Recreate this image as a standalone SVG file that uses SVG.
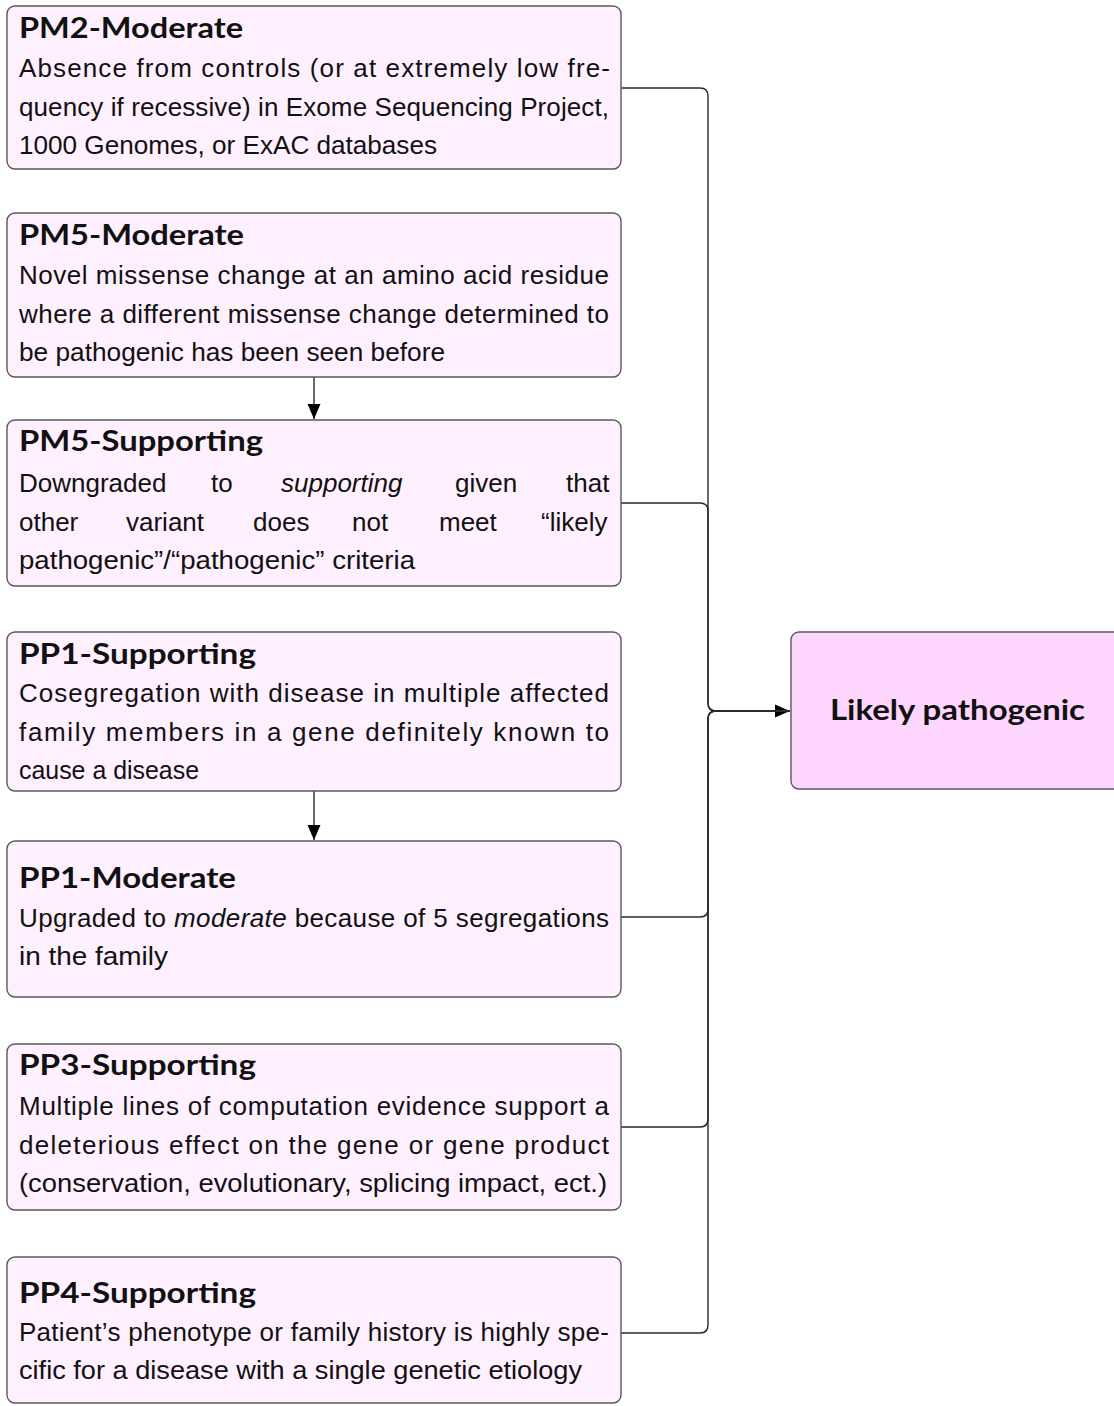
<svg xmlns="http://www.w3.org/2000/svg" width="1114" height="1406" viewBox="0 0 1114 1406">
<style>
.box{fill:#fef0fe;stroke:#5a5a5a;stroke-width:1.4}
.res{fill:#fdd5fd;stroke:#5a5a5a;stroke-width:1.4}
.t{font-family:Lato,"Liberation Sans",Arial,sans-serif;font-size:29px;font-weight:bold;fill:#111}
.b{font-family:"Liberation Sans",Arial,sans-serif;font-size:26px;fill:#111}
.i{font-style:italic}
.c{fill:none;stroke:#2a2a2a;stroke-width:1.4}
</style>
<defs>
<marker id="ah" markerUnits="userSpaceOnUse" markerWidth="16" markerHeight="14" refX="15" refY="7" orient="auto">
<path d="M0,0.5 L15,7 L0,13.5 Z" fill="#000"/>
</marker>
</defs>
<g id="connectors">
<path class="c" d="M621,88 H700 Q708,88 708,96 V703 Q708,711 716,711 H790" marker-end="url(#ah)"/>
<path class="c" d="M621,503 H700 Q708,503 708,511 V703 Q708,711 716,711 H790"/>
<path class="c" d="M621,917 H700 Q708,917 708,909 V719 Q708,711 716,711 H790"/>
<path class="c" d="M621,1127 H700 Q708,1127 708,1119 V719 Q708,711 716,711 H790"/>
<path class="c" d="M621,1333 H700 Q708,1333 708,1325 V719 Q708,711 716,711 H790"/>
<path class="c" d="M314,377 V419" marker-end="url(#ah)"/>
<path class="c" d="M314,791 V840" marker-end="url(#ah)"/>
</g>
<g id="pm2">
<rect class="box" x="7" y="6" width="614" height="163" rx="8"/>
<text class="t" x="19" y="38" textLength="224" lengthAdjust="spacingAndGlyphs">PM2-Moderate</text>
<text class="b" x="19" y="77" textLength="591" lengthAdjust="spacing">Absence from controls (or at extremely low fre-</text>
<text class="b" x="19" y="115.5" textLength="590" lengthAdjust="spacing">quency if recessive) in Exome Sequencing Project,</text>
<text class="b" x="19" y="154" textLength="418" lengthAdjust="spacingAndGlyphs">1000 Genomes, or ExAC databases</text>
</g>
<g id="pm5m">
<rect class="box" x="7" y="213" width="614" height="164" rx="8"/>
<text class="t" x="19" y="245" textLength="225" lengthAdjust="spacingAndGlyphs">PM5-Moderate</text>
<text class="b" x="19" y="284" textLength="590" lengthAdjust="spacing">Novel missense change at an amino acid residue</text>
<text class="b" x="19" y="323" textLength="590" lengthAdjust="spacing">where a different missense change determined to</text>
<text class="b" x="19" y="361" textLength="426" lengthAdjust="spacingAndGlyphs">be pathogenic has been seen before</text>
</g>
<g id="pm5s">
<rect class="box" x="7" y="420" width="614" height="166" rx="8"/>
<text class="t" x="19" y="451" textLength="244" lengthAdjust="spacingAndGlyphs">PM5-Supporting</text>
<text class="b" y="492"><tspan x="19">Downgraded</tspan><tspan x="211">to</tspan><tspan x="281" class="i">supporting</tspan><tspan x="455">given</tspan><tspan x="566">that</tspan></text>
<text class="b" y="530.5"><tspan x="19">other</tspan><tspan x="126">variant</tspan><tspan x="253">does</tspan><tspan x="352">not</tspan><tspan x="439">meet</tspan><tspan x="541">“likely</tspan></text>
<text class="b" x="19" y="569" textLength="396" lengthAdjust="spacingAndGlyphs">pathogenic”/“pathogenic” criteria</text>
</g>
<g id="pp1s">
<rect class="box" x="7" y="632" width="614" height="159" rx="8"/>
<text class="t" x="19" y="664" textLength="237" lengthAdjust="spacingAndGlyphs">PP1-Supporting</text>
<text class="b" x="19" y="702" textLength="590" lengthAdjust="spacing">Cosegregation with disease in multiple affected</text>
<text class="b" x="19" y="741" textLength="590" lengthAdjust="spacing">family members in a gene definitely known to</text>
<text class="b" x="19" y="779" textLength="180" lengthAdjust="spacingAndGlyphs">cause a disease</text>
</g>
<g id="pp1m">
<rect class="box" x="7" y="841" width="614" height="156" rx="8"/>
<text class="t" x="19" y="888" textLength="217" lengthAdjust="spacingAndGlyphs">PP1-Moderate</text>
<text class="b" x="19" y="927" textLength="590" lengthAdjust="spacing">Upgraded to <tspan class="i">moderate</tspan> because of 5 segregations</text>
<text class="b" x="19" y="965" textLength="149" lengthAdjust="spacingAndGlyphs">in the family</text>
</g>
<g id="pp3">
<rect class="box" x="7" y="1044" width="614" height="166" rx="8"/>
<text class="t" x="19" y="1075" textLength="237" lengthAdjust="spacingAndGlyphs">PP3-Supporting</text>
<text class="b" x="19" y="1115" textLength="590" lengthAdjust="spacing">Multiple lines of computation evidence support a</text>
<text class="b" x="19" y="1154" textLength="590" lengthAdjust="spacing">deleterious effect on the gene or gene product</text>
<text class="b" x="19" y="1192" textLength="588" lengthAdjust="spacingAndGlyphs">(conservation, evolutionary, splicing impact, ect.)</text>
</g>
<g id="pp4">
<rect class="box" x="7" y="1257" width="614" height="146" rx="8"/>
<text class="t" x="19" y="1303" textLength="237" lengthAdjust="spacingAndGlyphs">PP4-Supporting</text>
<text class="b" x="19" y="1341" textLength="590" lengthAdjust="spacing">Patient’s phenotype or family history is highly spe-</text>
<text class="b" x="19" y="1379" textLength="563" lengthAdjust="spacingAndGlyphs">cific for a disease with a single genetic etiology</text>
</g>
<g id="likely">
<rect class="res" x="791" y="632" width="340" height="157" rx="8"/>
<text class="t" x="830" y="720" textLength="255" lengthAdjust="spacingAndGlyphs">Likely pathogenic</text>
</g>
</svg>
